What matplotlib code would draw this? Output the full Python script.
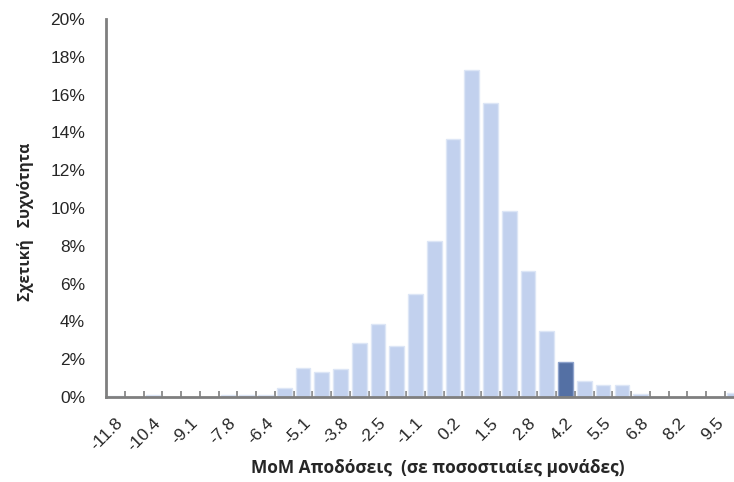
import matplotlib.pyplot as plt
from matplotlib.ticker import FuncFormatter

# κατηγορίες (κέντρα διαστημάτων) και σχετική συχνότητα (%)
bins = [-11.8, -11.1, -10.4, -9.8, -9.1, -8.5, -7.8, -7.1, -6.4, -5.8,
        -5.1, -4.4, -3.8, -3.1, -2.5, -1.8, -1.1, -0.5, 0.2, 0.8,
        1.5, 2.2, 2.8, 3.5, 4.2, 4.8, 5.5, 6.2, 6.8, 7.5,
        8.2, 8.8, 9.5, 10.2]
freq = [0.05, 0, 0.1, 0, 0, 0, 0.1, 0.1, 0.1, 0.45,
        1.55, 1.3, 1.47, 2.87, 3.86, 2.7, 5.43, 8.25, 13.65, 17.3,
        15.57, 9.82, 6.68, 3.49, 1.87, 0.86, 0.62, 0.62, 0.14, 0,
        0, 0, 0, 0.2]
highlight = 4.2

plt.rcParams['font.family'] = ['Liberation Sans', 'DejaVu Sans']

fig = plt.figure(figsize=(7.34, 4.82), dpi=100)
ax = fig.add_axes([106/734, 1 - 397/482, 1 - 106/734, (397 - 19)/482])

x = list(range(len(bins)))
colors = ['#5470a4' if b == highlight else '#c2d1ee' for b in bins]
edges = ['#8ea3cc' if b == highlight else '#dde6f6' for b in bins]
ax.bar(x, freq, width=0.78, color=colors, edgecolor=edges, linewidth=1, zorder=2)

ax.set_xlim(-0.5, 32.98)
ax.set_ylim(0, 20)
ax.set_yticks(range(0, 21, 2))
ax.yaxis.set_major_formatter(FuncFormatter(lambda v, p: '%d%%' % v))
ax.tick_params(axis='y', length=0, pad=15, labelsize=12.5, labelcolor='#262626')

ax.set_xticks(x[::2])
ax.set_xticklabels([str(b) for b in bins[::2]], rotation=45, ha='right',
                   va='top', rotation_mode='anchor', fontsize=12.5, color='#262626')
ax.tick_params(axis='x', which='major', length=0, pad=13)
ax.set_xticks([i + 0.5 for i in x[:-1]], minor=True)
ax.tick_params(axis='x', which='minor', direction='in', length=4, width=1.2, color='#7f7f7f')

for s in ['top', 'right']:
    ax.spines[s].set_visible(False)
for s in ['left', 'bottom']:
    ax.spines[s].set_color('#7f7f7f')
    ax.spines[s].set_linewidth(2)

fig.text(25/734, 1 - 222/482, 'Σχετική   Συχνότητα', rotation=90, ha='center', va='center',
         fontsize=11.2, fontweight='bold', color='#262626', family=['Open Sans', 'DejaVu Sans'])
fig.text(438/734, 1 - 468/482, 'MoM Αποδόσεις  (σε ποσοστιαίες μονάδες)', ha='center',
         va='center', fontsize=12.5, fontweight='bold', color='#262626',
         family=['Open Sans', 'DejaVu Sans'])

fig.savefig('out.png', dpi=100)
